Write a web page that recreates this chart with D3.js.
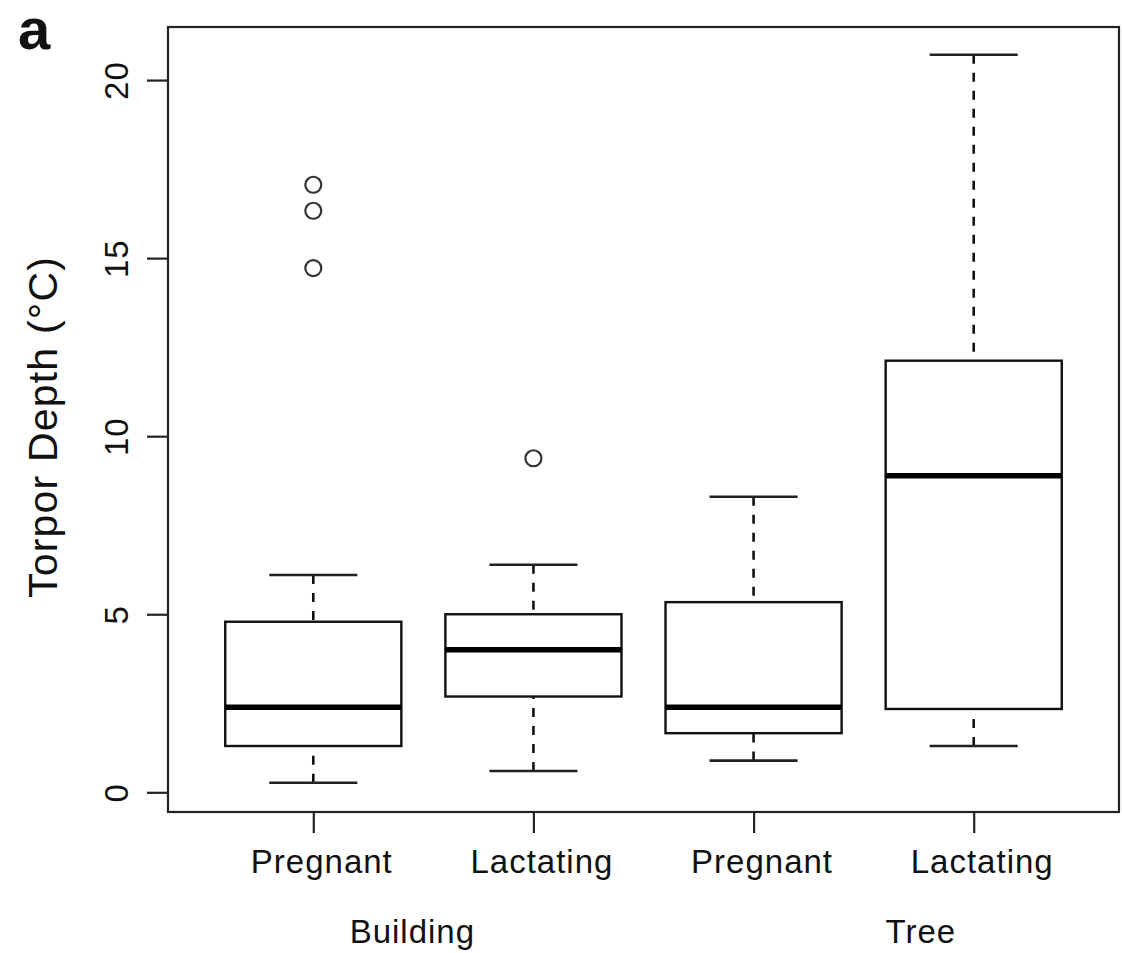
<!DOCTYPE html>
<head>
  <meta charset="utf-8">
  <style>
    body { margin: 0; background: #fff; }
    text { font-family: "Liberation Sans", Arial, Helvetica, sans-serif; fill: #111; }
  </style>
  <script src="https://cdn.jsdelivr.net/npm/d3@7"></script>
</head>
<body>
  <svg width="1122" height="953"></svg>
  <script>

  // values
  var groups = ["Pregnant", "Lactating", "Pregnant", "Lactating"];
  var sites = ["Building", "Tree"];
  var sitePos = [1.45, 3.76];
  var lowerWhisker = [0.27, 0.60, 0.89, 1.30];
  var q1 = [1.30, 2.69, 1.66, 2.34];
  var median = [2.39, 4.00, 2.39, 8.89];
  var q3 = [4.79, 5.00, 5.34, 12.12];
  var upperWhisker = [6.10, 6.39, 8.30, 20.71];
  var outliers = [[14.72, 16.33, 17.06], [9.38], [], []];
  var yTicks = [0, 5, 10, 15, 20];

  var svg = d3.select("svg");

  var x = d3.scaleLinear()
      .domain([0.34, 4.66])
      .range([168, 1119]);

  var y = d3.scaleLinear()
      .domain([-0.553, 21.49])
      .range([812, 27]);

  var boxes = groups.map(function(g, i) {
    return {pos: i + 1, lo: lowerWhisker[i], q1: q1[i], med: median[i],
            q3: q3[i], hi: upperWhisker[i], out: outliers[i]};
  });

  var g = svg.append("g");

  // whiskers (drawn from the end towards the box, like R)
  g.selectAll(".whisker-lo")
    .data(boxes)
    .enter().append("line")
      .attr("x1", function(d) { return x(d.pos); })
      .attr("x2", function(d) { return x(d.pos); })
      .attr("y1", function(d) { return y(d.lo); })
      .attr("y2", function(d) { return y(d.q1); })
      .attr("stroke", "#111")
      .attr("stroke-width", 2.6)
      .attr("stroke-dasharray", "9,9");

  g.selectAll(".whisker-hi")
    .data(boxes)
    .enter().append("line")
      .attr("x1", function(d) { return x(d.pos); })
      .attr("x2", function(d) { return x(d.pos); })
      .attr("y1", function(d) { return y(d.hi); })
      .attr("y2", function(d) { return y(d.q3); })
      .attr("stroke", "#111")
      .attr("stroke-width", 2.6)
      .attr("stroke-dasharray", "9,9");

  // caps
  ["lo", "hi"].forEach(function(k) {
    g.selectAll(".cap-" + k)
      .data(boxes)
      .enter().append("line")
        .attr("x1", function(d) { return x(d.pos - 0.2); })
        .attr("x2", function(d) { return x(d.pos + 0.2); })
        .attr("y1", function(d) { return y(d[k]); })
        .attr("y2", function(d) { return y(d[k]); })
        .attr("stroke", "#222")
        .attr("stroke-width", 2.6);
  });

  // boxes
  g.selectAll("rect.box")
    .data(boxes)
    .enter().append("rect")
      .attr("x", function(d) { return x(d.pos - 0.4); })
      .attr("width", function(d) { return x(d.pos + 0.4) - x(d.pos - 0.4); })
      .attr("y", function(d) { return y(d.q3); })
      .attr("height", function(d) { return y(d.q1) - y(d.q3); })
      .attr("fill", "#fff")
      .attr("stroke", "#111")
      .attr("stroke-width", 2.4);

  // medians
  g.selectAll(".median")
    .data(boxes)
    .enter().append("line")
      .attr("x1", function(d) { return x(d.pos - 0.4); })
      .attr("x2", function(d) { return x(d.pos + 0.4); })
      .attr("y1", function(d) { return y(d.med); })
      .attr("y2", function(d) { return y(d.med); })
      .attr("stroke", "#000")
      .attr("stroke-width", 5.5);

  // outliers
  var pts = [];
  boxes.forEach(function(d) { d.out.forEach(function(v) { pts.push({pos: d.pos, v: v}); }); });
  g.selectAll("circle")
    .data(pts)
    .enter().append("circle")
      .attr("cx", function(d) { return x(d.pos); })
      .attr("cy", function(d) { return y(d.v); })
      .attr("r", 8)
      .attr("fill", "none")
      .attr("stroke", "#333")
      .attr("stroke-width", 2.2);

  // frame
  svg.append("rect")
      .attr("x", x.range()[0])
      .attr("y", y.range()[1])
      .attr("width", x.range()[1] - x.range()[0])
      .attr("height", y.range()[0] - y.range()[1])
      .attr("fill", "none")
      .attr("stroke", "#222")
      .attr("stroke-width", 2.2);

  // y axis
  var ya = svg.append("g")
      .attr("transform", "translate(" + x.range()[0] + ",0)")
      .call(d3.axisLeft(y).tickValues(yTicks).tickSize(21).tickFormat(d3.format("d")));
  ya.select(".domain").remove();
  ya.selectAll(".tick line").attr("stroke", "#222").attr("stroke-width", 2.2);
  ya.selectAll(".tick text")
      .attr("transform", "rotate(-90)")
      .attr("x", 0)
      .attr("y", -40)
      .attr("dy", null)
      .attr("text-anchor", "middle")
      .attr("fill", "#111")
      .style("font-size", "33px")
      .style("letter-spacing", "1px");

  // x axis
  var xa = svg.append("g")
      .attr("transform", "translate(0," + y.range()[0] + ")")
      .call(d3.axisBottom(x).tickValues([1, 2, 3, 4]).tickSize(21)
        .tickFormat(function(d, i) { return groups[i]; }));
  xa.select(".domain").remove();
  xa.selectAll(".tick line").attr("stroke", "#222").attr("stroke-width", 2.2);
  xa.selectAll(".tick text")
      .attr("x", 8)
      .attr("y", 61)
      .attr("dy", null)
      .attr("fill", "#111")
      .style("font-size", "33px")
      .style("letter-spacing", "1px");

  // site labels
  svg.selectAll(".site")
    .data(sites)
    .enter().append("text")
      .attr("x", function(d, i) { return x(sitePos[i]); })
      .attr("y", 943)
      .attr("text-anchor", "middle")
      .style("font-size", "33px")
      .style("letter-spacing", "1px")
      .text(function(d) { return d; });

  // y label
  svg.append("text")
      .attr("transform", "translate(57,427) rotate(-90)")
      .attr("text-anchor", "middle")
      .style("font-size", "41px")
      .style("letter-spacing", "1.2px")
      .text("Torpor Depth (°C)");

  // panel letter
  svg.append("text")
      .attr("x", 18)
      .attr("y", 49)
      .style("font-size", "58px")
      .style("font-weight", "bold")
      .text("a");

  </script>
</body>
